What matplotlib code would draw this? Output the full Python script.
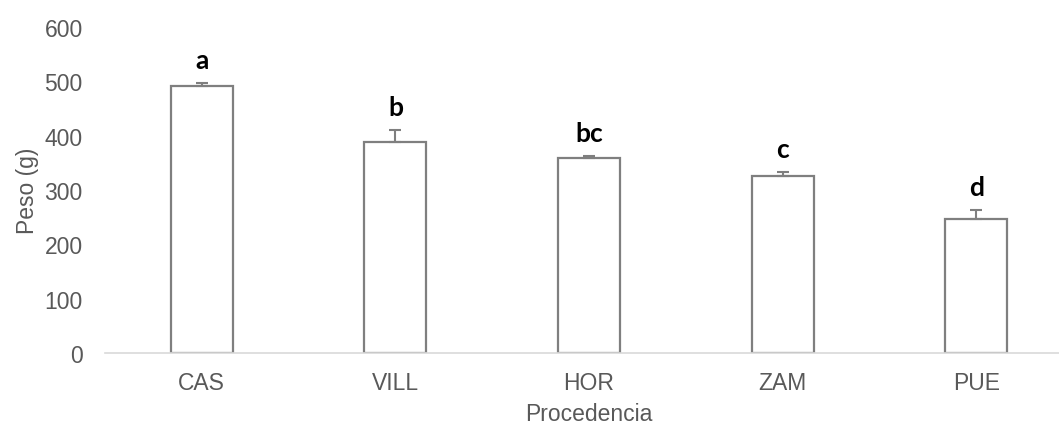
import matplotlib.pyplot as plt

# mean weight per origin, upper error, and significance letters
procedencia = ['CAS', 'VILL', 'HOR', 'ZAM', 'PUE']
peso = [491, 388, 359, 326, 247]
error = [6, 22, 4, 7, 16]
letras = ['a', 'b', 'bc', 'c', 'd']

GRIS = '#595959'
BORDE = '#7f7f7f'

plt.rcParams['font.family'] = ['Liberation Sans', 'DejaVu Sans']

fig = plt.figure(figsize=(10.59, 4.27), dpi=100)
# axes run a little past the right edge of the figure
ax = fig.add_axes([105 / 1059, 73 / 427, 968 / 1059, 326 / 427])

x = range(len(procedencia))
ax.bar(x, peso, width=0.32, color='white', edgecolor=BORDE, linewidth=1.6, zorder=2)
ax.errorbar(x, peso, yerr=[[0] * len(error), error], fmt='none', ecolor=BORDE,
            elinewidth=1.5, capsize=4.3, capthick=1.5, zorder=3)

for xi, p, e, l in zip(x, peso, error, letras):
    ax.annotate(l, (xi, p + e), xytext=(0, 8), textcoords='offset points',
                ha='center', va='bottom', fontsize=19, fontweight='bold',
                family=['Lato', 'DejaVu Sans'], color='black')

ax.set_xlim(-0.5, 4.5)
ax.set_ylim(0, 600)
ax.set_yticks(range(0, 601, 100))
ax.set_xticks(list(x))
ax.set_xticklabels(procedencia)

for s in ['top', 'right', 'left']:
    ax.spines[s].set_visible(False)
ax.spines['bottom'].set_color('#d9d9d9')
ax.spines['bottom'].set_linewidth(1.2)

ax.tick_params(axis='both', length=0, labelsize=16.5, colors=GRIS)
ax.tick_params(axis='y', pad=16)
ax.tick_params(axis='x', pad=13)

ax.set_xlabel('Procedencia', fontsize=16.5, color=GRIS, labelpad=6)
ax.set_ylabel('Peso (g)', fontsize=16.5, color=GRIS, labelpad=4)

fig.savefig('out.png', dpi=100)
